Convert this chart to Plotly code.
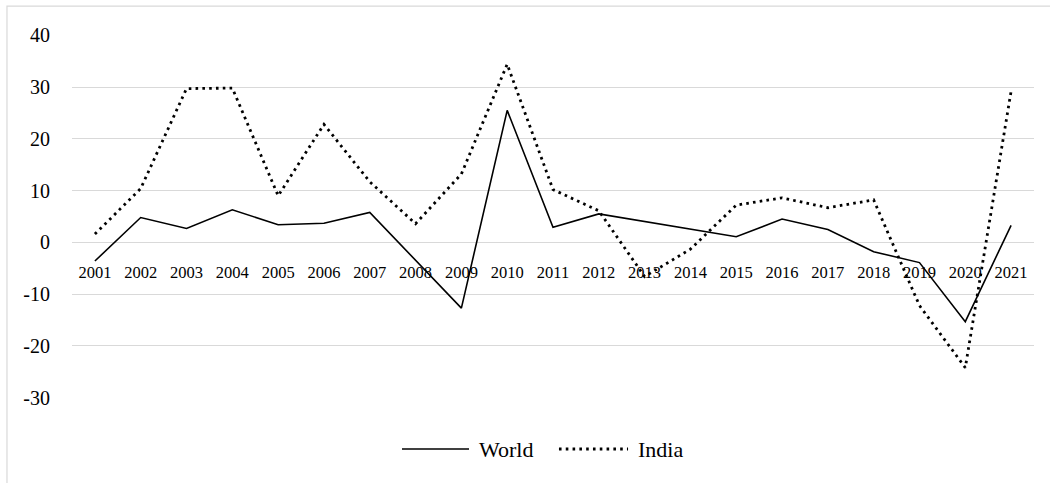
import plotly.graph_objects as go

# Annual growth (%) by year
years = [str(y) for y in range(2001, 2022)]
world = [-3.6, 4.8, 2.7, 6.3, 3.4, 3.7, 5.8, -3.4, -12.7, 25.5, 2.9,
         5.5, 4.0, 2.6, 1.1, 4.5, 2.5, -1.8, -3.9, -15.3, 3.3]
india = [1.6, 10.4, 29.7, 29.8, 9.0, 22.8, 11.7, 3.6, 13.2, 34.4, 10.2,
         6.1, -6.6, -1.3, 7.2, 8.6, 6.7, 8.2, -12.2, -24.2, 29.2]

y_ticks = [-30, -20, -10, 0, 10, 20, 30, 40]
y_labels = [str(v) for v in y_ticks]  # plain hyphen for negatives
y_min, y_max = -30, 40

FONT = "Liberation Serif"
GRID = "#d9d9d9"
WORLD_LINE = dict(color="black", width=1.6)
INDIA_LINE = dict(color="black", width=2.8, dash="2.6px,4.2px")

fig = go.Figure()
fig.add_trace(go.Scatter(x=years, y=world, name="World", mode="lines",
                         line=WORLD_LINE, showlegend=False))
fig.add_trace(go.Scatter(x=years, y=india, name="India", mode="lines",
                         line=INDIA_LINE, showlegend=False))

# category axis sits on the zero line
zero_pos = (0 - y_min) / (y_max - y_min)

# legend row below the plot, drawn as sample lines plus labels
legend_y = -0.1405
legend_items = [
    ("World", WORLD_LINE, 0.343, 0.4127, 0.421),
    ("India", INDIA_LINE, 0.5062, 0.578, 0.5863),
]
shapes = [dict(
    type="rect", xref="paper", yref="paper",
    x0=-0.0676, x1=1.05, y0=-0.4, y1=1.0798,
    line=dict(color=GRID, width=1.2), layer="below",
)]
annotations = []
for label, style, x0, x1, xt in legend_items:
    shapes.append(dict(type="line", xref="paper", yref="paper",
                       x0=x0, x1=x1, y0=legend_y, y1=legend_y, line=style))
    annotations.append(dict(text=label, xref="paper", yref="paper",
                            x=xt, y=legend_y, xanchor="left", yanchor="middle",
                            showarrow=False,
                            font=dict(family=FONT, size=22, color="black")))

fig.update_layout(
    width=1050, height=483,
    margin=dict(l=72, r=16, t=35, b=85),
    paper_bgcolor="white", plot_bgcolor="white",
    font=dict(family=FONT, color="black"),
    xaxis=dict(
        type="category", categoryorder="array", categoryarray=years,
        range=[-0.5, len(years) - 0.5],
        showgrid=False, zeroline=False, showline=False, ticks="",
        anchor="free", position=zero_pos,
        tickfont=dict(family=FONT, size=16.5, color="black"),
        ticklabelstandoff=18,
    ),
    yaxis=dict(
        range=[y_min - 0.05, y_max + 0.05],
        tickvals=y_ticks, ticktext=y_labels,
        showgrid=True, gridcolor=GRID, gridwidth=1,
        zeroline=False, showline=False, ticks="",
        tickfont=dict(family=FONT, size=20, color="black"),
        ticklabelstandoff=21,
    ),
    showlegend=False,
    shapes=shapes,
    annotations=annotations,
)

fig.write_html("out.html")
